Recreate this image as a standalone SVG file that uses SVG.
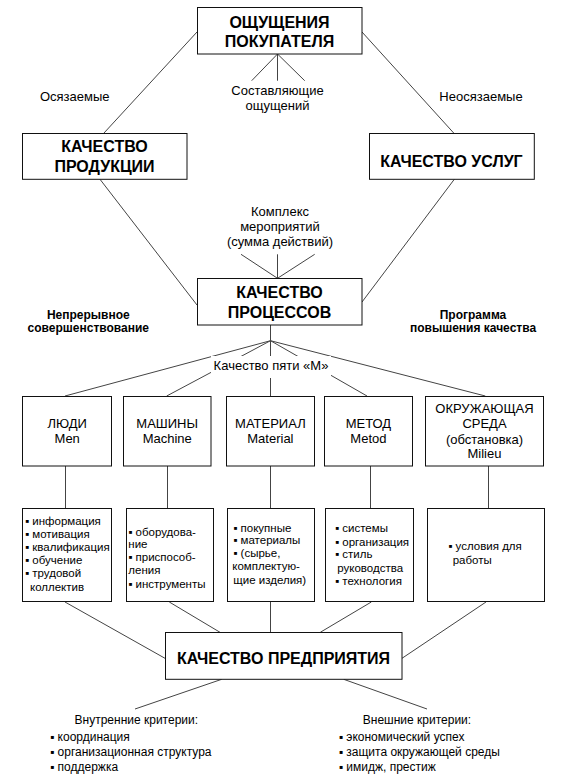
<svg xmlns="http://www.w3.org/2000/svg" width="564" height="780" viewBox="0 0 564 780">
<style>
text{font-family:"Liberation Sans",Arial,sans-serif;fill:#000}
.box{fill:#fff;stroke:#111;stroke-width:1}
.t{font-size:16px;font-weight:bold;text-anchor:middle}
.r{font-size:13px;text-anchor:middle}
.s{font-size:12px;font-weight:bold;text-anchor:middle}
.b{font-size:11.5px}
.c{font-size:12px}
.cm{font-size:12px;text-anchor:middle}
#connectors line{stroke:#444;stroke-width:1}
</style>
<rect width="564" height="780" fill="#fff"/>
<g id="connectors">
<line x1="197" y1="32" x2="104" y2="133"/>
<line x1="362" y1="32" x2="453.7" y2="133"/>
<line x1="277.5" y1="54" x2="251.7" y2="80.7"/>
<line x1="277.5" y1="54" x2="277.5" y2="80.7"/>
<line x1="277.5" y1="54" x2="304.7" y2="80.7"/>
<line x1="100" y1="179.3" x2="197" y2="305"/>
<line x1="454.3" y1="179.3" x2="362" y2="302"/>
<line x1="277.5" y1="278.3" x2="241" y2="254.3"/>
<line x1="277.5" y1="278.3" x2="277.5" y2="254.3"/>
<line x1="277.5" y1="278.3" x2="314.7" y2="254.3"/>
<line x1="270.5" y1="325" x2="270.5" y2="340.7"/>
<line x1="270.5" y1="340.7" x2="65" y2="396"/>
<line x1="270.5" y1="340.7" x2="166.7" y2="396"/>
<line x1="270.5" y1="340.7" x2="270.5" y2="396"/>
<line x1="270.5" y1="340.7" x2="367" y2="396"/>
<line x1="270.5" y1="340.7" x2="485.3" y2="396"/>
<line x1="65.5" y1="466" x2="65.5" y2="508.3"/>
<line x1="167.5" y1="466" x2="167.5" y2="508.3"/>
<line x1="270.5" y1="466" x2="270.5" y2="508.3"/>
<line x1="370.5" y1="466" x2="370.5" y2="508.3"/>
<line x1="488.5" y1="466" x2="488.5" y2="508.3"/>
<line x1="65" y1="602" x2="165" y2="658.3"/>
<line x1="169.3" y1="602" x2="220" y2="632.3"/>
<line x1="270.5" y1="602" x2="270.5" y2="632.3"/>
<line x1="371.3" y1="602" x2="320.3" y2="632.3"/>
<line x1="486" y1="602" x2="402" y2="658.3"/>
<line x1="221.7" y1="679.3" x2="135" y2="709"/>
<line x1="343.7" y1="679.3" x2="427" y2="709"/>
</g>
<g id="label-five-m">
<rect x="211" y="356" width="120" height="22" fill="#fff"/>
<text class="r" x="271" y="370">Качество пяти «М»</text>
</g>
<g id="node-buyer">
<rect class="box" x="197.5" y="7.5" width="164.5" height="46.5"/>
<text class="t" x="279.5" y="28">ОЩУЩЕНИЯ</text>
<text class="t" x="279.5" y="46.5">ПОКУПАТЕЛЯ</text>
</g>
<g id="label-components">
<text class="r" x="277.5" y="94.5">Составляющие</text>
<text class="r" x="277.5" y="109.5">ощущений</text>
</g>
<g id="label-tangible"><text class="r" x="74.7" y="101">Осязаемые</text></g>
<g id="label-intangible"><text class="r" x="481" y="101">Неосязаемые</text></g>
<g id="node-product">
<rect class="box" x="22.5" y="133.5" width="164.5" height="45.8"/>
<text class="t" x="104.5" y="151.5">КАЧЕСТВО</text>
<text class="t" x="104.5" y="171.5">ПРОДУКЦИИ</text>
</g>
<g id="node-services">
<rect class="box" x="369.5" y="133.5" width="164.8" height="45.8"/>
<text class="t" x="451.5" y="166.5">КАЧЕСТВО УСЛУГ</text>
</g>
<g id="label-complex">
<text class="r" x="280" y="216">Комплекс</text>
<text class="r" x="280" y="231">мероприятий</text>
<text class="r" x="280" y="246">(сумма действий)</text>
</g>
<g id="node-processes">
<rect class="box" x="197.5" y="278.5" width="164.5" height="46.5"/>
<text class="t" x="279.5" y="297.5">КАЧЕСТВО</text>
<text class="t" x="279.5" y="317.5">ПРОЦЕССОВ</text>
</g>
<g id="label-continuous">
<text class="s" x="88.3" y="318.5">Непрерывное</text>
<text class="s" x="88.3" y="332">совершенствование</text>
</g>
<g id="label-program">
<text class="s" x="473" y="318.5">Программа</text>
<text class="s" x="473" y="332">повышения качества</text>
</g>
<g id="node-men">
<rect class="box" x="22.5" y="396.5" width="89" height="69.5"/>
<text class="r" x="67.2" y="428">ЛЮДИ</text>
<text class="r" x="67.2" y="443">Men</text>
</g>
<g id="node-machine">
<rect class="box" x="123.5" y="396.5" width="87.5" height="69.5"/>
<text class="r" x="167.2" y="428">МАШИНЫ</text>
<text class="r" x="167.2" y="443">Machine</text>
</g>
<g id="node-material">
<rect class="box" x="226.5" y="396.5" width="88" height="69.5"/>
<text class="r" x="270.4" y="428">МАТЕРИАЛ</text>
<text class="r" x="270.4" y="443">Material</text>
</g>
<g id="node-method">
<rect class="box" x="324.5" y="396.5" width="88" height="69.5"/>
<text class="r" x="368.4" y="428">МЕТОД</text>
<text class="r" x="368.4" y="443">Metod</text>
</g>
<g id="node-milieu">
<rect class="box" x="425.5" y="396.5" width="118" height="69.5"/>
<text class="r" x="484.5" y="413">ОКРУЖАЮЩАЯ</text>
<text class="r" x="484.5" y="428">СРЕДА</text>
<text class="r" x="484.5" y="443.5">(обстановка)</text>
<text class="r" x="484.5" y="458">Milieu</text>
</g>
<g id="node-men-list">
<rect class="box" x="22.5" y="508.5" width="89" height="93"/>
<text class="b" x="25" y="525">▪ информация</text>
<text class="b" x="25" y="538">▪ мотивация</text>
<text class="b" x="25" y="551">▪ квалификация</text>
<text class="b" x="25" y="563.5">▪ обучение</text>
<text class="b" x="25" y="577">▪ трудовой</text>
<text class="b" x="30" y="591">коллектив</text>
</g>
<g id="node-machine-list">
<rect class="box" x="126.5" y="508.5" width="87" height="93"/>
<text class="b" x="128.3" y="536">▪ оборудова-</text>
<text class="b" x="128.3" y="547.5">ние</text>
<text class="b" x="128.3" y="561">▪ приспособ-</text>
<text class="b" x="128.3" y="574">ления</text>
<text class="b" x="128.3" y="588">▪ инструменты</text>
</g>
<g id="node-material-list">
<rect class="box" x="227.5" y="508.5" width="87" height="93"/>
<text class="b" x="233.3" y="531.5">▪ покупные</text>
<text class="b" x="233.3" y="543.5">▪ материалы</text>
<text class="b" x="233.3" y="556.5">▪ (сырье,</text>
<text class="b" x="232.3" y="570">комплектую-</text>
<text class="b" x="233.3" y="583.5">щие изделия)</text>
</g>
<g id="node-method-list">
<rect class="box" x="325.5" y="508.5" width="88" height="93"/>
<text class="b" x="335" y="532">▪ системы</text>
<text class="b" x="335" y="546">▪ организация</text>
<text class="b" x="335" y="558">▪ стиль</text>
<text class="b" x="337.3" y="571.5">руководства</text>
<text class="b" x="335" y="585">▪ технология</text>
</g>
<g id="node-milieu-list">
<rect class="box" x="427.5" y="508.5" width="117" height="93"/>
<text class="b" x="448.3" y="550">▪ условия для</text>
<text class="b" x="452.7" y="563.5">работы</text>
</g>
<g id="node-enterprise">
<rect class="box" x="165.5" y="632.5" width="236.5" height="46.8"/>
<text class="t" x="283.5" y="664">КАЧЕСТВО ПРЕДПРИЯТИЯ</text>
</g>
<g id="label-internal">
<text class="cm" x="136.3" y="723.5">Внутренние критерии:</text>
<text class="c" x="50" y="741">▪ координация</text>
<text class="c" x="50" y="756">▪ организационная структура</text>
<text class="c" x="50" y="771">▪ поддержка</text>
</g>
<g id="label-external">
<text class="cm" x="417" y="723.5">Внешние критерии:</text>
<text class="c" x="338.7" y="741">▪ экономический успех</text>
<text class="c" x="338.7" y="756">▪ защита окружающей среды</text>
<text class="c" x="338.7" y="771">▪ имидж, престиж</text>
</g>
</svg>
